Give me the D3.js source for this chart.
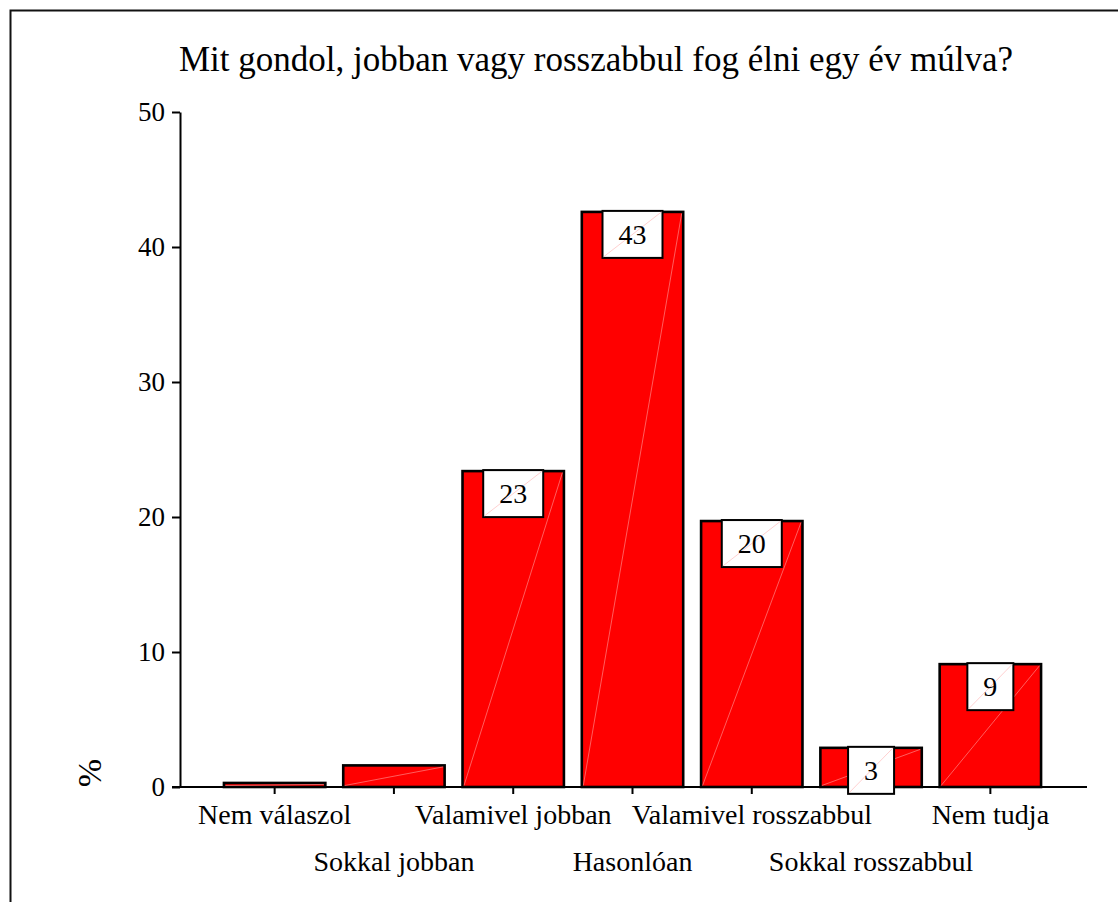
<!DOCTYPE html>
<html>
<head>
<meta charset="utf-8">
<script src="https://cdn.jsdelivr.net/npm/d3@7"></script>
<style>
  html, body { margin: 0; padding: 0; background: #fff; }
  svg { display: block; }
  text { font-family: "Liberation Serif", "Times New Roman", serif; fill: #000; }
</style>
</head>
<body>
<svg id="chart" width="1118" height="902"></svg>
<script>
const title = "Mit gondol, jobban vagy rosszabbul fog élni egy év múlva?";
const categories = ["Nem válaszol", "Sokkal jobban", "Valamivel jobban", "Hasonlóan",
                    "Valamivel rosszabbul", "Sokkal rosszabbul", "Nem tudja"];
const values = [0.3, 1.6, 23.4, 42.6, 19.7, 2.9, 9.1];
const valueLabels = [null, null, "23", "43", "20", "3", "9"];
const yTicks = [0, 10, 20, 30, 40, 50];
const yLabel = "%";

const svg = d3.select("#chart");

// outer frame (only left and top edges visible)
svg.append("path")
  .attr("d", "M10.5,902 L10.5,10.5 L1118,10.5")
  .attr("fill", "none").attr("stroke", "#111").attr("stroke-width", 2);

const y = d3.scaleLinear().domain([0, 50]).range([787, 112]);
const x = d3.scaleBand().domain(categories).range([215, 1050]).paddingInner(0.15).paddingOuter(0.075);

// title
svg.append("text")
  .attr("x", 596).attr("y", 71)
  .attr("text-anchor", "middle")
  .style("font-size", "35px")
  .text(title);

// y axis
const yAxis = svg.append("g")
  .attr("transform", "translate(180,0)")
  .call(d3.axisLeft(y).tickValues(yTicks).tickSize(8).tickSizeOuter(0).tickPadding(7));
yAxis.selectAll("path, line").attr("stroke", "#000").attr("stroke-width", 2);
yAxis.selectAll("text").style("font-size", "27px").attr("font-family", null);

// x axis
const xAxis = svg.append("g")
  .attr("transform", `translate(0,${y(0)})`)
  .call(d3.axisBottom(x).tickSize(7).tickSizeOuter(0).tickPadding(0));
xAxis.select(".domain").remove();
xAxis.selectAll("line").attr("stroke", "#000").attr("stroke-width", 2);
xAxis.selectAll("text")
  .attr("font-family", null)
  .style("font-size", "28px")
  .attr("dy", null)
  .attr("y", (d, i) => i % 2 === 0 ? 37 : 84);
svg.append("line")
  .attr("x1", 172).attr("x2", 1087)
  .attr("y1", y(0)).attr("y2", y(0))
  .attr("stroke", "#000").attr("stroke-width", 2);

// bars
const bars = svg.append("g");
categories.forEach((c, i) => {
  const x0 = x(c), w = x.bandwidth(), yt = y(values[i]), yb = y(0);
  bars.append("rect")
    .attr("x", x0).attr("y", yt)
    .attr("width", w).attr("height", yb - yt)
    .attr("fill", "#ff0000").attr("stroke", "#000").attr("stroke-width", 2.6);
  bars.append("line")
    .attr("x1", x0 + 1.5).attr("y1", yb - 1.5)
    .attr("x2", x0 + w - 1.5).attr("y2", yt + 1.5)
    .attr("stroke", "#ff9c9c").attr("stroke-width", 0.6);
});

// value label boxes
const labs = svg.append("g");
categories.forEach((c, i) => {
  const lab = valueLabels[i];
  if (lab == null) return;
  const cx = x(c) + x.bandwidth() / 2;
  const top = y(values[i]) - 1;
  const t = labs.append("text")
    .attr("x", cx).attr("y", top + 33)
    .attr("text-anchor", "middle")
    .style("font-size", "28px")
    .text(lab);
  const tw = t.node().getComputedTextLength();
  const bw = tw + 32, bh = 47;
  labs.insert("rect", "text")
    .attr("x", cx - bw / 2).attr("y", top)
    .attr("width", bw).attr("height", bh)
    .attr("fill", "#fff").attr("stroke", "#000").attr("stroke-width", 2);
  labs.insert("line", "text")
    .attr("x1", cx - bw / 2 + 1).attr("y1", top + bh - 1)
    .attr("x2", cx + bw / 2 - 1).attr("y2", top + 1)
    .attr("stroke", "#ffb0b0").attr("stroke-width", 0.6);
});

// y label
svg.append("text")
  .attr("transform", "translate(101,773) rotate(-90)")
  .attr("text-anchor", "middle")
  .style("font-size", "34px")
  .text(yLabel);
</script>
</body>
</html>
